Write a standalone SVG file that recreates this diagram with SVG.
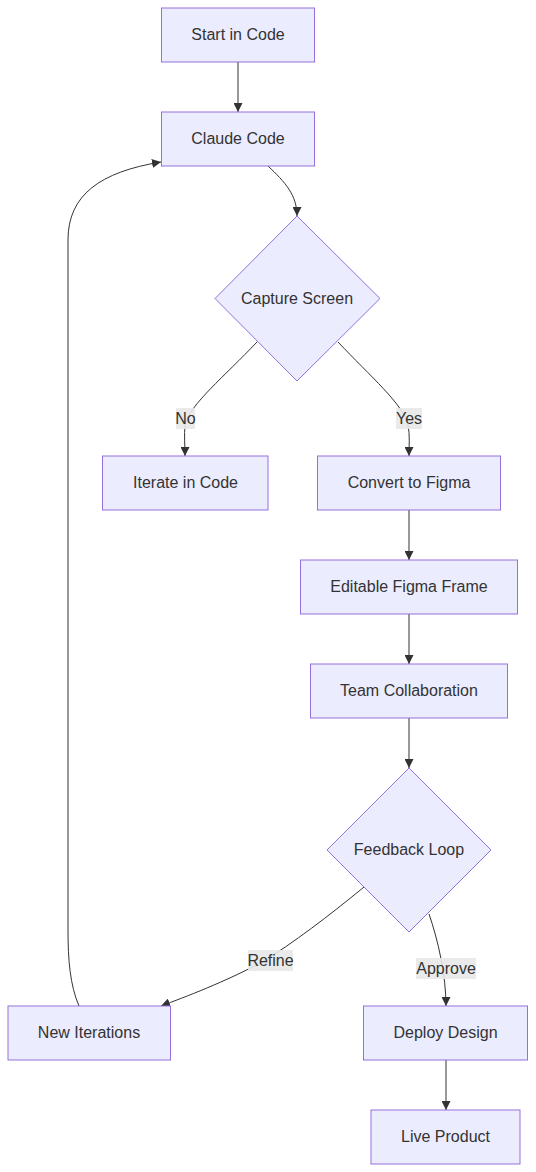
<svg xmlns="http://www.w3.org/2000/svg" width="536" height="1172" viewBox="0 0 536 1172">
<style>
.node rect,.node polygon{fill:#ECECFF;stroke:#9370DB;stroke-width:1}
text{font-family:"Liberation Sans",Arial,sans-serif;font-size:16px;fill:#333;text-anchor:middle}
.edge{fill:none;stroke:#333;stroke-width:1}
.lbl{fill:#e8e8e8;opacity:0.9}
</style>
<defs>
<marker id="arr" viewBox="0 0 10 10" refX="10" refY="5" markerWidth="9" markerHeight="9" markerUnits="userSpaceOnUse" orient="auto">
<path d="M0,0 L10,5 L0,10 z" fill="#333"/>
</marker>
</defs>
<rect width="536" height="1172" fill="#fff"/>
<g id="connectors">
<path class="edge" d="M238,62 L238,112" marker-end="url(#arr)"/>
<path class="edge" d="M268,166 C285,182 297,195 297,216" marker-end="url(#arr)"/>
<path class="edge" d="M257,342 C225,376 189,405 185,425 C184,435 185,445 185,456" marker-end="url(#arr)"/>
<path class="edge" d="M338,342 C370,376 404,405 408,425 C410,435 409,445 409,456" marker-end="url(#arr)"/>
<path class="edge" d="M409,510 L409,560" marker-end="url(#arr)"/>
<path class="edge" d="M409,614 L409,664" marker-end="url(#arr)"/>
<path class="edge" d="M409,718 L409,768" marker-end="url(#arr)"/>
<path class="edge" d="M364,887 C330,915 292,944 262,962 C225,982 185,997 161,1006" marker-end="url(#arr)"/>
<path class="edge" d="M429,914 C438,940 446,975 446,1006" marker-end="url(#arr)"/>
<path class="edge" d="M446,1060 L446,1110" marker-end="url(#arr)"/>
<path class="edge" d="M79,1006 C70,985 68,960 68,930 L68,240 C68,195 100,172 161,162" marker-end="url(#arr)"/>
<rect class="lbl" x="176" y="408" width="19" height="21"/>
<text x="185.5" y="423.5">No</text>
<rect class="lbl" x="396" y="408" width="26" height="21"/>
<text x="409" y="423.5">Yes</text>
<rect class="lbl" x="248" y="950" width="45" height="21"/>
<text x="270.5" y="965.5">Refine</text>
<rect class="lbl" x="416" y="958" width="60" height="21"/>
<text x="446" y="973.5">Approve</text>
</g>
<g id="start" class="node"><rect x="161.5" y="8" width="153" height="54"/><text x="238" y="39.5">Start in Code</text></g>
<g id="claude" class="node"><rect x="161.5" y="112" width="153" height="54"/><text x="238" y="143.5">Claude Code</text></g>
<g id="capture" class="node"><polygon points="297,216 380,298.5 297,381 215,298.5"/><text x="297" y="303.5">Capture Screen</text></g>
<g id="iterate" class="node"><rect x="102.5" y="456" width="165.5" height="54"/><text x="185.5" y="487.5">Iterate in Code</text></g>
<g id="convert" class="node"><rect x="317.5" y="456" width="183" height="54"/><text x="409" y="487.5">Convert to Figma</text></g>
<g id="editable" class="node"><rect x="300.5" y="560" width="217" height="54"/><text x="409" y="591.5">Editable Figma Frame</text></g>
<g id="team" class="node"><rect x="310.5" y="664" width="197" height="54"/><text x="409" y="695.5">Team Collaboration</text></g>
<g id="feedback" class="node"><polygon points="409,768 491,850 409,932 327,850"/><text x="409" y="854.5">Feedback Loop</text></g>
<g id="newiter" class="node"><rect x="8" y="1006" width="162.5" height="54"/><text x="89" y="1037.5">New Iterations</text></g>
<g id="deploy" class="node"><rect x="363.5" y="1006" width="164" height="54"/><text x="445.5" y="1037.5">Deploy Design</text></g>
<g id="live" class="node"><rect x="371" y="1110" width="149" height="54"/><text x="445.5" y="1141.5">Live Product</text></g>
</svg>
